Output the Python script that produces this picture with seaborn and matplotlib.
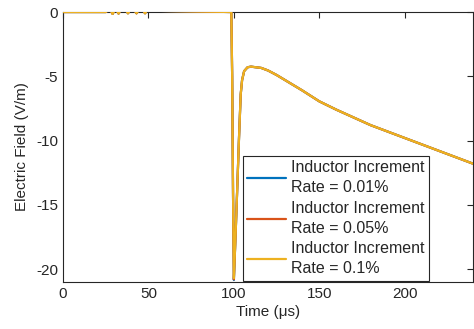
import numpy as np
import pandas as pd
import seaborn as sns
import matplotlib
matplotlib.use("Agg")
import matplotlib.pyplot as plt
from matplotlib.patches import Polygon

time_us = [0, 25, 26, 28, 29, 30, 31.5, 32.5, 33.5, 37, 38, 39, 42, 43, 44, 47, 48, 49, 51,
           98.5, 99.0, 99.5, 100.0, 101.0, 102.0, 103.0, 104.0, 104.8, 106, 108, 110,
           113, 116, 120, 125, 130, 140, 150, 160, 170, 180, 190, 200, 210, 220, 230, 240]
field_base = [0, 0, 0.1, 0.1, -0.15, 0.1, 0.1, -0.12, 0.1, 0.1, -0.1, 0.1, 0.1, -0.1, 0.1,
              0.1, -0.1, 0.1, 0.1,
              0, -5, -14, -20.7, -17.3, -13.6, -9.8, -6.4, -5.3, -4.6, -4.3, -4.25,
              -4.3, -4.35, -4.55, -4.9, -5.3, -6.1, -6.95, -7.6, -8.2, -8.8, -9.3, -9.8,
              -10.3, -10.8, -11.3, -11.8]
field_001 = list(field_base)
field_005 = list(field_base)
field_010 = list(field_base)
field_001[22] = -20.85
field_005[22] = -20.8
labels = ["Inductor Increment\nRate = 0.01%",
          "Inductor Increment\nRate = 0.05%",
          "Inductor Increment\nRate = 0.1%"]
colors = ["#0072BD", "#D95319", "#EDB120"]

rows = []
for lab, vals in zip(labels, [field_001, field_005, field_010]):
    for t, v in zip(time_us, vals):
        rows.append({"t": t, "E": v, "series": lab})
df = pd.DataFrame(rows)

sns.set_style("white")
plt.rcParams['font.family'] = ['Liberation Sans', 'DejaVu Sans']
plt.rcParams['axes.unicode_minus'] = False

fig = plt.figure(figsize=(4.74, 3.29), dpi=100)
ax = fig.add_axes([0.133, 0.143, 0.865, 0.8205])
sns.lineplot(data=df, x="t", y="E", hue="series", palette=colors, hue_order=labels,
             linewidth=1.6, ax=ax, sort=False, estimator=None)

ax.set_xlim(0, 240)
ax.set_ylim(-21, 0)
clip_poly = Polygon([(-2, -22), (241, -22), (241, 0), (25.5, 0), (25.5, 0.4), (-2, 0.4)],
                    closed=True, transform=ax.transData)
for ln in ax.get_lines():
    ln.set_clip_path(clip_poly)

ax.set_xticks([0, 50, 100, 150, 200])
ax.set_yticks([0, -5, -10, -15, -20])
ax.tick_params(direction='in', length=4, width=0.8, top=True, right=True,
               labelsize=11, colors='#262626', labelcolor='#262626')
for s in ax.spines.values():
    s.set_color('#262626')
    s.set_linewidth(0.8)
    s.set_zorder(1)
ax.set_xlabel("Time (μs)", fontsize=11, color='#262626', labelpad=3)
ax.set_ylabel("Electric Field (V/m)", fontsize=11, color='#262626', labelpad=5)

leg = ax.legend(loc='lower left', bbox_to_anchor=(0.438, 0.004), fontsize=11.5,
                frameon=True, fancybox=False, framealpha=1, edgecolor='#262626',
                handlelength=2.4, borderpad=0.3, labelspacing=0.33, handletextpad=0.3,
                borderaxespad=0)
for txt in leg.get_texts():
    txt.set_linespacing(1.42)
leg.get_frame().set_linewidth(0.8)

fig.savefig("out.png", dpi=100)
